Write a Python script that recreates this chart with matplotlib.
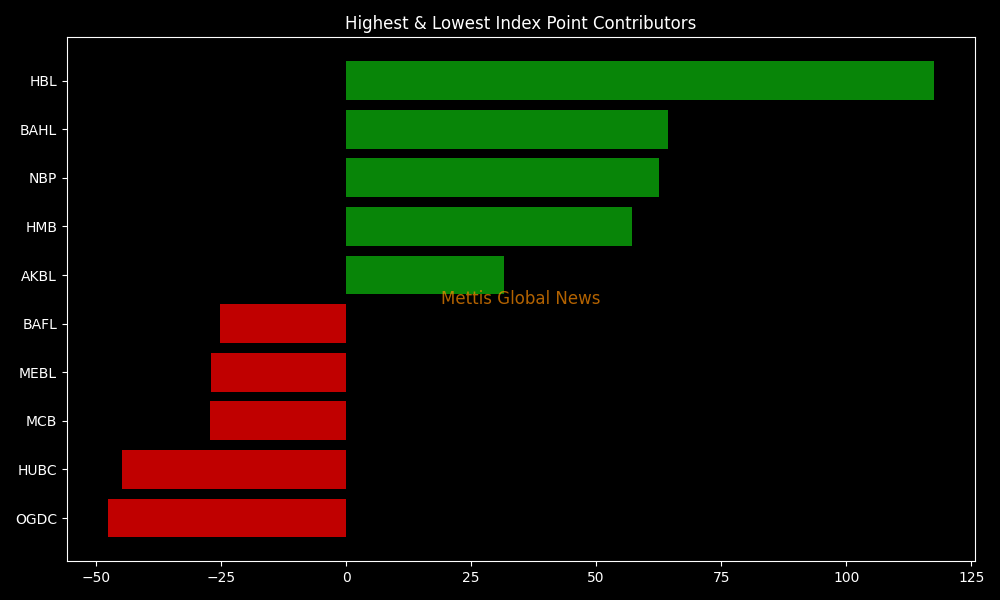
import matplotlib.pyplot as plt

plt.style.use('dark_background')

tickers = ["OGDC", "HUBC", "MCB", "MEBL", "BAFL", "AKBL", "HMB", "NBP", "BAHL", "HBL"]
points = [-47.6, -44.8, -27.2, -27.0, -25.2, 31.6, 57.2, 62.6, 64.4, 117.6]

colors = ['#088508' if p > 0 else '#c00000' for p in points]

fig, ax = plt.subplots(figsize=(10, 6), dpi=100)
ax.barh(tickers, points, color=colors)
ax.set_title("Highest & Lowest Index Point Contributors")
ax.text(0.5, 0.5, "Mettis Global News", transform=ax.transAxes,
        ha='center', va='center', fontsize=12, color='darkorange', alpha=0.7)

plt.tight_layout()
plt.savefig("out.png")
plt.close()
